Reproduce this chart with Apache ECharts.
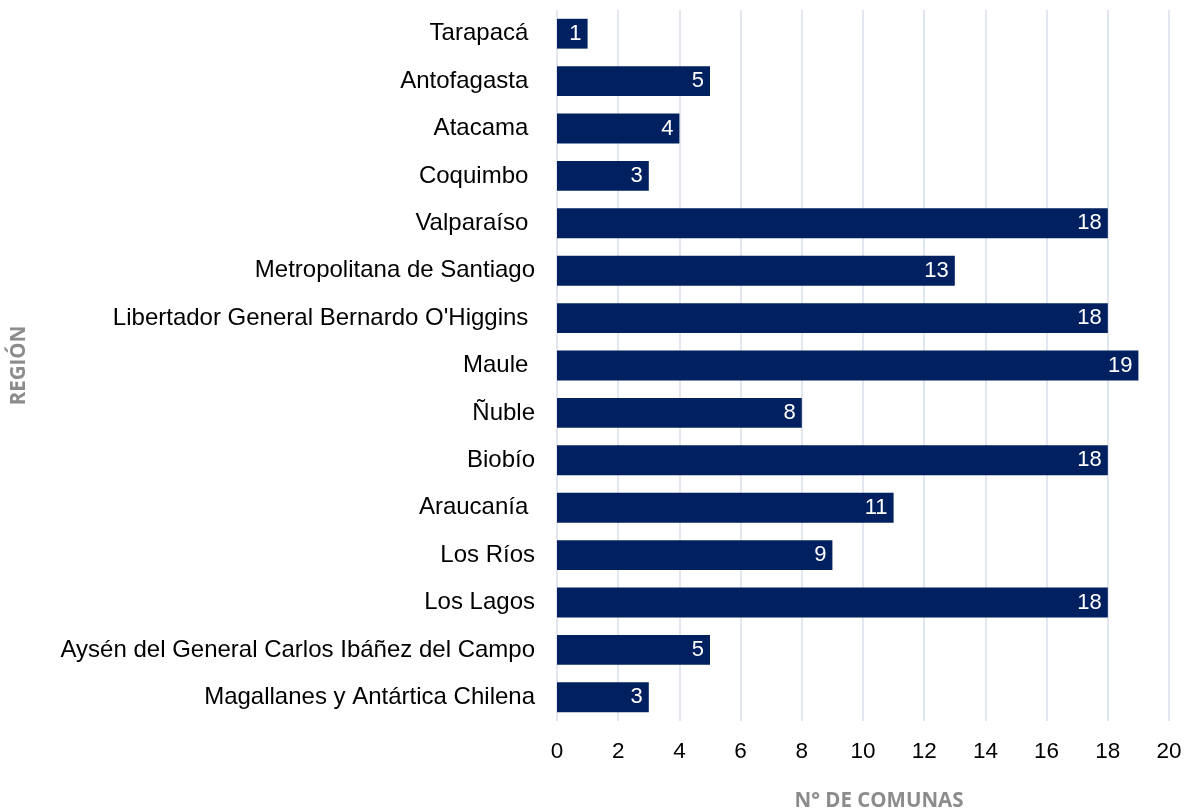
<!DOCTYPE html>
<html>
<head>
<meta charset="utf-8">
<script src="https://cdn.jsdelivr.net/npm/echarts@6/dist/echarts.min.js"></script>
<style>html,body{margin:0;padding:0;background:#fff}#c{width:1185px;height:811px}</style>
</head>
<body>
<div id="c"></div>
<script>
const regions = ["Tarapacá ", "Antofagasta ", "Atacama ", "Coquimbo ", "Valparaíso ", "Metropolitana de Santiago", "Libertador General Bernardo O'Higgins ", "Maule ", "Ñuble", "Biobío", "Araucanía ", "Los Ríos", "Los Lagos", "Aysén del General Carlos Ibáñez del Campo", "Magallanes y Antártica Chilena"];
const comunas = [1, 5, 4, 3, 18, 13, 18, 19, 8, 18, 11, 9, 18, 5, 3];
const xTicks = [0, 20, 2];

const chart = echarts.init(document.getElementById('c'));
chart.setOption({
  animation: false,
  grid: {left: 557, right: 16, top: 10, bottom: 90, containLabel: false, outerBoundsMode: 'none'},
  xAxis: {
    type: 'value', min: xTicks[0], max: xTicks[1], interval: xTicks[2],
    name: 'N° DE COMUNAS', nameLocation: 'middle', nameGap: 70,
    nameTextStyle: {fontFamily: 'Open Sans', fontWeight: 'bold', fontSize: 20.5, color: '#8c8c8c', padding: [0, 0, 0, 32]},
    axisLine: {show: false}, axisTick: {show: false},
    axisLabel: {fontFamily: 'Liberation Sans', fontSize: 22.5, color: '#000', margin: 19},
    splitLine: {show: true, lineStyle: {color: '#d9dee8', width: 1.5}}
  },
  yAxis: {
    type: 'category', data: regions, inverse: true,
    name: 'REGIÓN', nameLocation: 'middle', nameGap: 527, nameRotate: 90,
    nameTextStyle: {fontFamily: 'Open Sans', fontWeight: 'bold', fontSize: 20.5, color: '#8c8c8c'},
    axisLine: {show: false}, axisTick: {show: false},
    axisLabel: {fontFamily: 'Liberation Sans', fontSize: 24, color: '#000', margin: 22}
  },
  series: [{
    type: 'bar', data: comunas, barWidth: '63%',
    itemStyle: {color: '#002060'},
    label: {show: true, position: 'insideRight', distance: 6, color: '#fff', fontFamily: 'Liberation Sans', fontSize: 22}
  }]
});
</script>
</body>
</html>
